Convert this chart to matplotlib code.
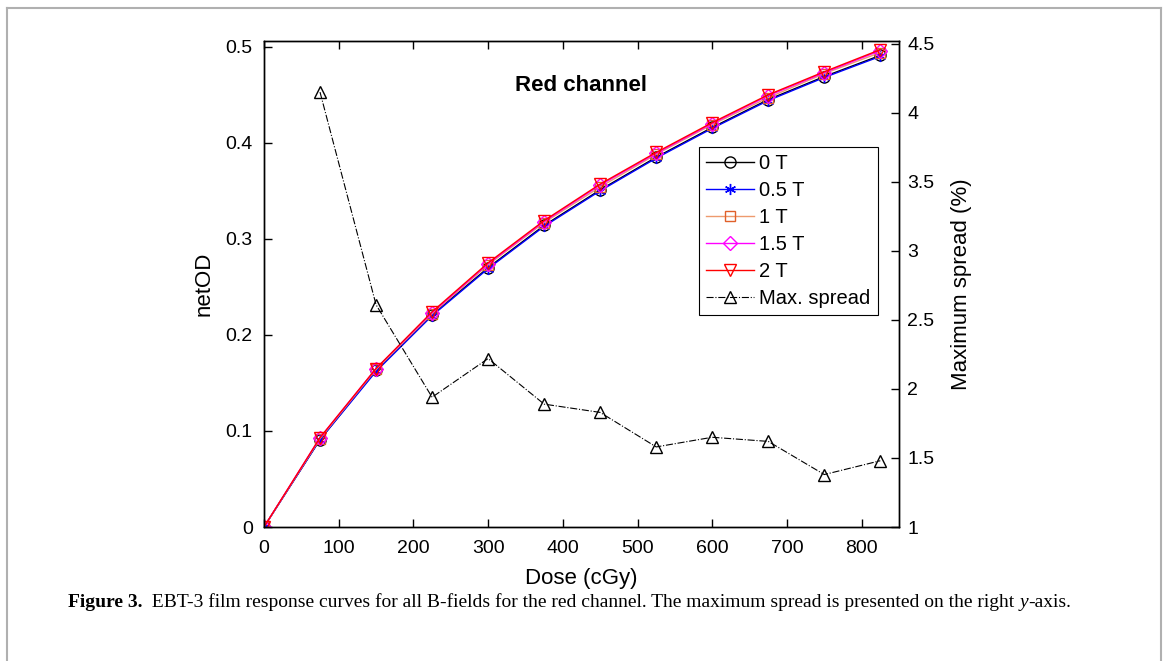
import numpy as np
import matplotlib
matplotlib.use('Agg')
import matplotlib.pyplot as plt
from matplotlib.lines import Line2D

plt.rcParams['font.family'] = ['Liberation Sans', 'DejaVu Sans']

dose = [0, 75, 150, 225, 300, 375, 450, 525, 600, 675, 750, 825]

# netOD per B-field
od_0T = [0, 0.091, 0.163, 0.221, 0.270, 0.314, 0.351, 0.385, 0.416, 0.445, 0.469, 0.491]
od_05T = [0, 0.091, 0.162, 0.220, 0.269, 0.313, 0.350, 0.384, 0.415, 0.444, 0.468, 0.490]
od_1T = [0, 0.092, 0.164, 0.222, 0.273, 0.317, 0.354, 0.388, 0.419, 0.447, 0.472, 0.494]
od_15T = [0, 0.093, 0.165, 0.223, 0.274, 0.318, 0.356, 0.389, 0.420, 0.449, 0.473, 0.496]
od_2T = [0, 0.093, 0.165, 0.224, 0.275, 0.319, 0.357, 0.390, 0.421, 0.450, 0.474, 0.497]

spread_dose = [75, 150, 225, 300, 375, 450, 525, 600, 675, 750, 825]
spread = [4.15, 2.61, 1.94, 2.22, 1.89, 1.83, 1.58, 1.65, 1.62, 1.38, 1.48]

fig = plt.figure(figsize=(11.66, 6.61), dpi=100)

# light gray frame around the figure
for xs, ys in [([0.006, 0.996], [0.988, 0.988]), ([0.006, 0.006], [0.0, 0.988]),
               ([0.996, 0.996], [0.0, 0.988])]:
    fig.add_artist(Line2D(xs, ys, color='#b0b0b0', lw=1.5, transform=fig.transFigure))

ax = fig.add_axes([0.2264, 0.2027, 0.5446, 0.7353])
ax2 = ax.twinx()

ms = 8
star = (6, 2, 0)
h = []
h += ax.plot(dose, od_0T, '-o', color='black', mfc='none', ms=ms, lw=1, label='0 T')
h += ax.plot(dose, od_05T, '-', marker=star, color='blue', ms=ms, lw=1, label='0.5 T')
h += ax.plot(dose, od_1T, '-s', color='#ee9a6e', mec='#e0602a', mfc='none', ms=ms - 1, lw=1, label='1 T')
h += ax.plot(dose, od_15T, '-D', color='magenta', mfc='none', ms=ms - 1, lw=1, label='1.5 T')
h += ax.plot(dose, od_2T, '-v', color='red', mfc='none', ms=ms + 1, lw=1, label='2 T')
h += ax2.plot(spread_dose, spread, '-.^', color='black', mfc='none', ms=ms + 1, lw=0.8,
              label='Max. spread')

ax.set_xlim(0, 850)
ax.set_ylim(0, 0.506)
ax2.set_ylim(1, 4.52)
ax.set_xticks(np.arange(0, 801, 100))
ax.set_yticks([0, 0.1, 0.2, 0.3, 0.4, 0.5])
ax.set_yticklabels(['0', '0.1', '0.2', '0.3', '0.4', '0.5'])
ax2.set_yticks([1, 1.5, 2, 2.5, 3, 3.5, 4, 4.5])
ax2.set_yticklabels(['1', '1.5', '2', '2.5', '3', '3.5', '4', '4.5'])

for a in (ax, ax2):
    a.tick_params(direction='in', labelsize=14, length=6, width=1)
    for s in a.spines.values():
        s.set_linewidth(1)
ax.tick_params(top=True)
ax.tick_params(axis='x', pad=9)
ax.tick_params(axis='y', pad=8)
ax2.tick_params(axis='y', pad=6)

ax.set_xlabel('Dose (cGy)', fontsize=16, labelpad=8)
ax.set_ylabel('netOD', fontsize=16, labelpad=8)
ax2.set_ylabel('Maximum spread (%)', fontsize=16, labelpad=12)

ax.text(336, 0.46, 'Red channel', fontsize=16, fontweight='bold', va='center')

leg = ax2.legend(h, [l.get_label() for l in h], loc='upper left',
                 bbox_to_anchor=(0.685, 0.782), fontsize=14.5, handlelength=2.4,
                 handletextpad=0.25, labelspacing=0.4, borderpad=0.35,
                 borderaxespad=0, fancybox=False, framealpha=1, edgecolor='black')
leg.get_frame().set_linewidth(0.8)

# caption, built from pieces so "y" can be italic
cap_kw = dict(family='Liberation Serif', fontsize=14, va='bottom')
t1 = fig.text(0.058, 0.075, 'Figure 3.', fontweight='bold', **cap_kw)
t2 = ax.annotate('  EBT-3 film response curves for all B-fields for the red channel. '
                 'The maximum spread is presented on the right ',
                 xy=(1, 0), xycoords=t1, **cap_kw)
t3 = ax.annotate('y', xy=(1, 0), xycoords=t2, style='italic', **cap_kw)
t4 = ax.annotate('-axis.', xy=(1, 0), xycoords=t3, **cap_kw)
for t in (t2, t3, t4):
    t.set_annotation_clip(False)

fig.savefig('out.png', dpi=100)
